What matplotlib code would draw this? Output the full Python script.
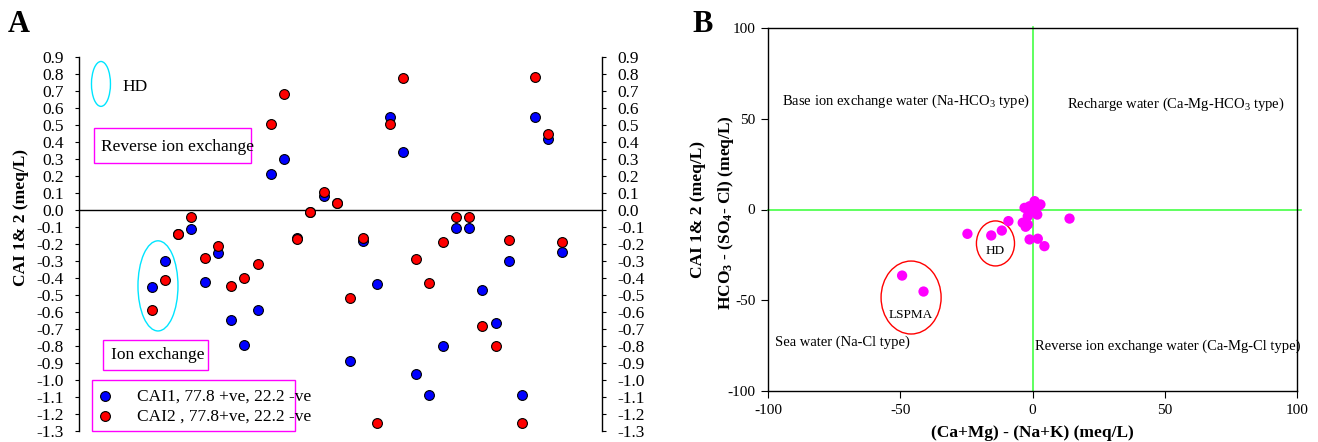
import matplotlib
matplotlib.use("Agg")
import matplotlib.pyplot as plt
from matplotlib.patches import Ellipse, Rectangle
import numpy as np

plt.rcParams['font.family'] = ['Liberation Serif', 'DejaVu Serif']
plt.rcParams['mathtext.fontset'] = 'custom'
plt.rcParams['mathtext.rm'] = 'Liberation Serif'
plt.rcParams['mathtext.it'] = 'Liberation Serif:italic'
plt.rcParams['mathtext.bf'] = 'Liberation Serif:bold'
plt.rcParams['axes.unicode_minus'] = False

# panel A: chloro-alkaline indices for each sample
sample = np.arange(1, 33)
cai1 = [-0.455, -0.30, -0.14, -0.11, -0.425, -0.25, -0.645, -0.795, -0.588, 0.21,
        0.30, -0.165, -0.01, 0.085, 0.04, -0.886, -0.18, -0.437, 0.549, 0.34,
        -0.965, -1.09, -0.80, -0.104, -0.104, -0.47, -0.667, -0.30, -1.09, 0.549,
        0.42, -0.249]
cai2 = [-0.59, -0.41, -0.143, -0.043, -0.285, -0.21, -0.447, -0.40, -0.32, 0.505,
        0.68, -0.17, -0.01, 0.108, 0.04, -0.52, -0.163, -1.25, 0.504, 0.778,
        -0.288, -0.428, -0.186, -0.04, -0.04, -0.682, -0.80, -0.178, -1.25, 0.78,
        0.449, -0.186]
lab1 = 'CAI1, 77.8 +ve, 22.2 -ve'
lab2 = 'CAI2 , 77.8+ve, 22.2 -ve'
yticks_a = np.round(np.arange(-1.3, 0.95, 0.1), 1)

# panel B: (Ca+Mg)-(Na+K) vs HCO3-(SO4+Cl)
cation = [14.0, 4.5, 2.0, -1.1, 0.8, 3.0, 1.8, -3.0, -1.1, -1.8, -3.7, -1.8, -2.6,
          -9.1, -11.6, -15.6, -24.6, -49.3, -41.2, 0.0, -0.5, 2.3]
anion = [-5.0, -20.2, -16.1, -16.5, 4.6, 2.8, -2.8, 0.9, 1.8, -3.7, -7.3, -8.3, -9.5,
         -6.4, -11.6, -14.3, -13.4, -36.4, -45.2, 1.0, -1.0, 2.0]

fig = plt.figure(figsize=(13.18, 4.42), dpi=100)

# ---------------- A ----------------
ax = fig.add_axes([79/1318, 1-431/442, 523/1318, 374/442])
ax.scatter(sample, cai1, s=50, c='#0000ff', edgecolors='black', linewidths=0.8,
           zorder=3, label=lab1)
ax.scatter(sample, cai2, s=50, c='#ff0000', edgecolors='black', linewidths=0.8,
           zorder=4, label=lab2)
ax.axhline(0, color='black', lw=1.0, zorder=1)
ax.set_xlim(-4.5, 35.05)
ax.set_ylim(-1.3, 0.9)
ax.set_yticks(yticks_a)
ax.set_yticklabels(['%.1f' % v for v in yticks_a])
ax.set_xticks([])
for s in ['top', 'bottom']:
    ax.spines[s].set_visible(False)
ax.spines['left'].set_linewidth(1.0)
ax.spines['right'].set_linewidth(1.0)
ax.tick_params(axis='y', direction='out', length=3, width=0.8, pad=8, labelsize=12.5,
               right=True, labelright=True)
fig.text(21/1318, 1-218/442, 'CAI 1& 2 (meq/L)', rotation=90, fontsize=12.5,
         fontweight='bold', ha='center', va='center')
fig.text(19/1318, 1-25/442, 'A', fontsize=22, fontweight='bold', ha='center', va='center')

ax.add_patch(Ellipse((0.042, 0.928), 0.0363, 0.120, transform=ax.transAxes,
                     fill=False, ec='#00e5ff', lw=1.0))
ax.text(0.0822, 0.920, 'HD', transform=ax.transAxes, fontsize=12.5, va='center')
ax.add_patch(Rectangle((0.0287, 0.717), 0.300, 0.0936, transform=ax.transAxes,
                       fill=False, ec='#ff00ff', lw=1.0))
ax.text(0.042, 0.759, 'Reverse ion exchange', transform=ax.transAxes, fontsize=12.5,
        va='center')
ax.add_patch(Ellipse((0.151, 0.388), 0.0765, 0.241, transform=ax.transAxes,
                     fill=False, ec='#00e5ff', lw=1.0))
ax.add_patch(Rectangle((0.0459, 0.163), 0.2008, 0.0802, transform=ax.transAxes,
                       fill=False, ec='#ff00ff', lw=1.0))
ax.text(0.0612, 0.203, 'Ion exchange', transform=ax.transAxes, fontsize=12.5,
        va='center')
# legend box is narrower than its text in the original
ax.add_patch(Rectangle((0.0249, 0.0), 0.388, 0.136, transform=ax.transAxes,
                       fill=False, ec='#ff00ff', lw=1.0, clip_on=False))
ax.legend(loc='lower left', bbox_to_anchor=(0.022, 0.0), borderaxespad=0,
          fontsize=12.5, frameon=False, scatterpoints=1, handlelength=1.0,
          handletextpad=1.3, borderpad=0.35, labelspacing=0.25)

# ---------------- B ----------------
bx = fig.add_axes([768/1318, 1-391/442, 529/1318, 363/442])
bx.scatter(cation, anion, s=55, c='#ff00ff', edgecolors='none', zorder=3)
bx.plot([-100, 101.5], [0, 0], color='#44ff44', lw=1.2, clip_on=False, zorder=2)
bx.plot([0, 0], [-100, 100.8], color='#44ff44', lw=1.2, clip_on=False, zorder=2)
bx.set_xlim(-100, 100)
bx.set_ylim(-100, 100)
bx.set_xticks([-100, -50, 0, 50, 100])
bx.set_yticks([-100, -50, 0, 50, 100])
bx.tick_params(direction='out', length=5, width=0.8, pad=4, labelsize=11)
for s in bx.spines.values():
    s.set_linewidth(1.0)
bx.set_xlabel('(Ca+Mg) - (Na+K) (meq/L)', fontsize=12.5, fontweight='bold', labelpad=6)
fig.text(698/1318, 1-210/442, 'CAI 1& 2 (meq/L)', rotation=90, fontsize=12.5,
         fontweight='bold', ha='center', va='center')
fig.text(726/1318, 1-213/442, r'HCO$_\mathbf{3}$ - (SO$_\mathbf{4}$- Cl) (meq/L)',
         rotation=90, fontsize=12.5, fontweight='bold', ha='center', va='center')
fig.text(703/1318, 1-24/442, 'B', fontsize=22, fontweight='bold', ha='center', va='center')

bx.add_patch(Ellipse((-14.0, -18.7), 14.4, 24.8, fill=False, ec='red', lw=1.0))
bx.text(-14.0, -22.6, 'HD', fontsize=9.5, ha='center', va='center')
bx.add_patch(Ellipse((-45.9, -48.5), 22.7, 40.2, fill=False, ec='red', lw=1.0))
bx.text(-46.1, -58.4, 'LSPMA', fontsize=9.5, ha='center', va='center')
bx.text(-94.6, 59.5, r'Base ion exchange water (Na-HCO$_3$ type)', fontsize=10.5,
        va='center')
bx.text(13.2, 57.9, r'Recharge water (Ca-Mg-HCO$_3$ type)', fontsize=10.5, va='center')
bx.text(-97.3, -73.3, 'Sea water (Na-Cl type)', fontsize=10.5, va='center')
bx.text(0.8, -75.5, 'Reverse ion exchange water (Ca-Mg-Cl type)', fontsize=10.5,
        va='center')

fig.savefig('out.png', dpi=100)
